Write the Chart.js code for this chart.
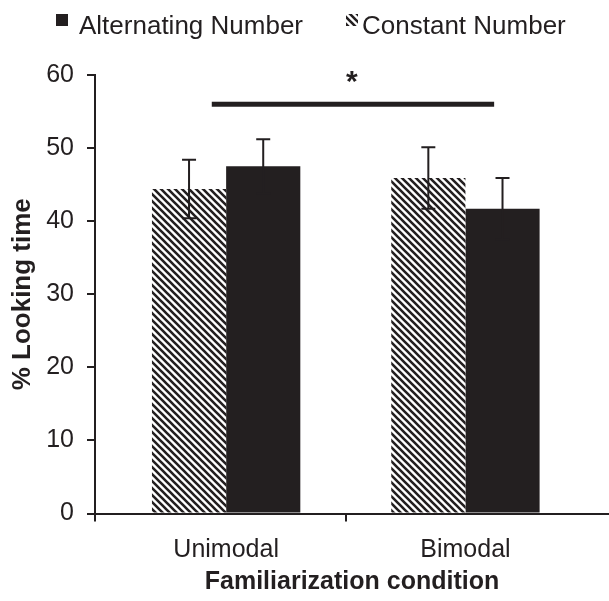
<!DOCTYPE html>
<html>
<head>
<meta charset="utf-8">
<script src="https://cdn.jsdelivr.net/npm/chart.js@4.4.1/dist/chart.umd.min.js"></script>
<style>
  html, body { margin: 0; padding: 0; background: #fff; }
</style>
</head>
<body>
<canvas id="chart" width="609" height="601"></canvas>
<script>
// values
const categories = ['Unimodal', 'Bimodal'];
const constantMeans = [44.4, 45.9];
const constantErrors = [4.0, 4.2];
const alternatingMeans = [47.5, 41.7];
const alternatingErrors = [3.7, 4.2];
const yMin = 0, yMax = 60, yStep = 10;
// x runs in category units; ticks sit at the axis start and between the groups
const xMin = -0.548, xMax = 1.6;
const xBoundaryTicks = [xMin, 0.5];
// significance bar (category units) and its level
const sigFrom = -0.06, sigTo = 1.12, sigValue = 56;

const INK = '#231f20';
const FONT = "'Liberation Sans', Arial, Helvetica, sans-serif";

// diagonal "\" hatch
function makeHatch() {
    const s = 7;
    const c = document.createElement('canvas');
    c.width = s; c.height = s;
    const g = c.getContext('2d');
    g.fillStyle = '#fff';
    g.fillRect(0, 0, s, s);
    g.strokeStyle = INK;
    g.lineWidth = 2.6;
    g.beginPath();
    g.moveTo(-1, -1); g.lineTo(s + 1, s + 1);
    g.moveTo(-1, s - 1); g.lineTo(1, s + 1);
    g.moveTo(s - 1, -1); g.lineTo(s + 1, 1);
    g.stroke();
    return g.createPattern(c, 'repeat');
}
const hatch = makeHatch();

const toPoints = vals => vals.map((v, i) => ({ x: i, y: v }));

const errorBars = {
    id: 'errorBars',
    afterDatasetsDraw(chart) {
        const ctx = chart.ctx;
        const y = chart.scales.y;
        ctx.save();
        ctx.strokeStyle = INK;
        ctx.lineWidth = 2;
        chart.data.datasets.forEach((ds, i) => {
            const meta = chart.getDatasetMeta(i);
            meta.data.forEach((bar, j) => {
                const v = ds.data[j].y, e = ds.errors[j];
                const top = y.getPixelForValue(v + e);
                const bot = y.getPixelForValue(v - e);
                ctx.beginPath();
                ctx.moveTo(bar.x, top); ctx.lineTo(bar.x, bot);
                ctx.moveTo(bar.x - 7, top); ctx.lineTo(bar.x + 7, top);
                ctx.moveTo(bar.x - 7, bot); ctx.lineTo(bar.x + 7, bot);
                ctx.stroke();
            });
        });
        ctx.restore();
    }
};

const extras = {
    id: 'extras',
    afterDraw(chart) {
        const ctx = chart.ctx;
        const x = chart.scales.x, y = chart.scales.y;
        ctx.save();

        // significance line + asterisk
        const ly = y.getPixelForValue(sigValue);
        const x0 = x.getPixelForValue(sigFrom), x1 = x.getPixelForValue(sigTo);
        ctx.fillStyle = INK;
        ctx.fillRect(x0, ly - 2.5, x1 - x0, 5);
        ctx.font = 'bold 30px ' + FONT;
        ctx.textAlign = 'center';
        ctx.textBaseline = 'alphabetic';
        ctx.fillText('*', (x0 + x1) / 2 - 1, ly - 13);

        // legend
        ctx.font = '26px ' + FONT;
        ctx.textAlign = 'left';
        ctx.fillStyle = INK;
        ctx.fillRect(56, 14, 12, 12);
        ctx.fillText('Alternating Number', 79, 34);
        ctx.fillStyle = hatch;
        ctx.fillRect(346, 14, 12, 12);
        ctx.fillStyle = INK;
        ctx.fillText('Constant Number', 362, 34);
        ctx.restore();
    }
};

new Chart(document.getElementById('chart'), {
    type: 'bar',
    data: {
        datasets: [
            { label: 'Constant Number', data: toPoints(constantMeans), errors: constantErrors, backgroundColor: hatch, borderWidth: 0 },
            { label: 'Alternating Number', data: toPoints(alternatingMeans), errors: alternatingErrors, backgroundColor: INK, borderWidth: 0 }
        ]
    },
    options: {
        responsive: false,
        animation: false,
        layout: { padding: { top: 75, right: 0, bottom: 12, left: 0 } },
        // the bar ruler sees the 0.5-unit tick spacing, hence > 1
        datasets: { bar: { categoryPercentage: 1.24, barPercentage: 1 } },
        scales: {
            x: {
                type: 'linear',
                min: xMin, max: xMax,
                offset: false,
                afterBuildTicks(s) {
                    s.ticks = [...xBoundaryTicks, ...categories.map((c, i) => i)]
                        .sort((a, b) => a - b).map(v => ({ value: v }));
                },
                grid: {
                    offset: false, drawOnChartArea: false, drawTicks: true, tickLength: 8, lineWidth: 2,
                    tickColor: c => (c.tick && Number.isInteger(c.tick.value)) ? 'rgba(0,0,0,0)' : INK
                },
                border: { color: INK, width: 2 },
                ticks: {
                    autoSkip: false, maxRotation: 0, color: INK, padding: 16,
                    font: { family: FONT, size: 25, lineHeight: 1 },
                    callback: v => Number.isInteger(v) ? categories[v] : ''
                },
                title: { display: true, text: 'Familiarization condition', color: INK, padding: { top: -3, bottom: 0 }, font: { family: FONT, size: 25, weight: 'bold', lineHeight: 0.54 } }
            },
            y: {
                min: yMin, max: yMax,
                afterFit(s) { s.width = 95; },
                grid: { drawOnChartArea: false, drawTicks: true, tickLength: 8, color: INK, lineWidth: 2 },
                border: { color: INK, width: 2 },
                ticks: { stepSize: yStep, color: INK, padding: 13, font: { family: FONT, size: 25 } },
                title: { display: true, text: '% Looking time', color: INK, padding: { top: 7, bottom: 0 }, font: { family: FONT, size: 26, weight: 'bold' } }
            }
        },
        plugins: {
            legend: { display: false },
            tooltip: { enabled: false }
        }
    },
    plugins: [errorBars, extras]
});
</script>
</body>
</html>
